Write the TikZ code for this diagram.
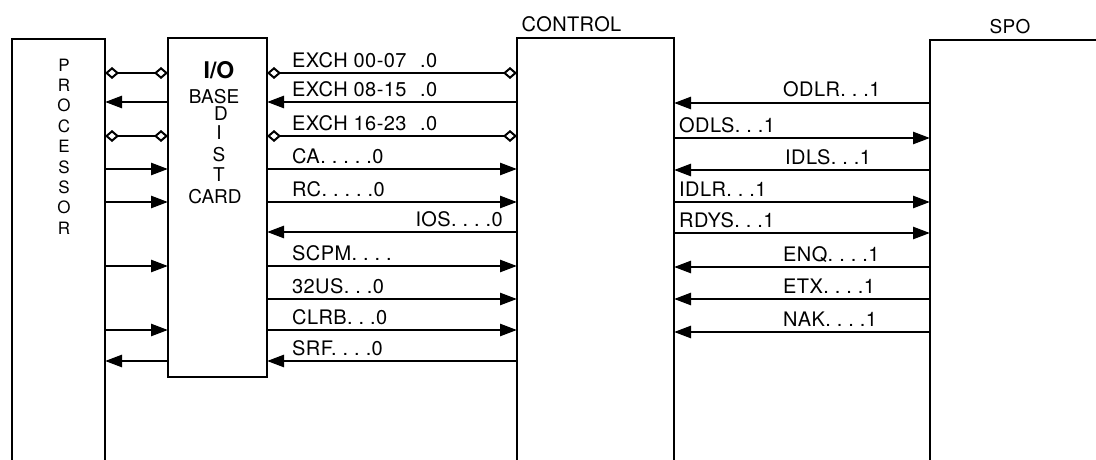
\documentclass[tikz,border=0pt]{standalone}
\usepackage{fontspec}
\setmainfont{TeX Gyre Heros}
\newfontfamily\lblfont[LetterSpace=2]{TeX Gyre Heros}
\usetikzlibrary{arrows.meta}
\begin{document}
\begin{tikzpicture}[x=1pt,y=-1pt,
  box/.style={line width=2.4pt},
  frame/.style={inner sep=0pt,outer sep=0pt},
  wire/.style={line width=2.6pt},
  to/.style={wire,-{Triangle[length=17pt,width=12pt]}},
  dia/.style={wire,{Diamond[open,length=14pt,width=12pt,line width=2pt]}-{Diamond[open,length=14pt,width=12pt,line width=2pt]}},
  lbl/.style={font=\lblfont\fontsize{20}{20}\selectfont\frenchspacing,inner sep=0pt,anchor=base west},
  lblr/.style={lbl,anchor=base east},
  title/.style={font=\lblfont\fontsize{20}{20}\selectfont,inner sep=0pt},
  cardtxt/.style={font=\fontsize{19}{19}\selectfont,inner sep=0pt},
  ptxt/.style={font=\fontsize{17}{17}\selectfont,inner sep=0pt}]
\useasboundingbox (0,0) rectangle (1096,460);

% rows
\foreach \n/\y in {1/73,2/102,3/136,4/169,5/202,6/232,7/266,8/299,9/330,10/361}
  \coordinate (r\n) at (0,\y);
\foreach \n/\y in {1/103,2/138,3/170,4/202,5/233,6/267,7/299,8/332}
  \coordinate (s\n) at (0,\y);

% boxes
\node[frame,minimum width=93pt,minimum height=421pt] (proc) at (58.5,249.5) {};
\draw[box] (proc.south west) -- (proc.north west) -- (proc.north east) -- (proc.south east);
\node[frame,draw,box,minimum width=99pt,minimum height=339pt] (card) at (217.5,207.5) {};
\node[frame,minimum width=157pt,minimum height=422pt] (ctrl) at (595.5,249) {};
\draw[box] (ctrl.south west) -- (ctrl.north west) -- (ctrl.north east) -- (ctrl.south east);
\node[frame,minimum width=170pt,minimum height=420pt] (spo) at (1015,250) {};
\draw[box] (spo.south west) -- (spo.north west) -- (spo.north east);

% titles
\node[title] (tctrl) at (571.5,24.5) {CONTROL};
\node[title,font=\lblfont\fontsize{19}{19}\selectfont] (tspo) at (1010,27) {SPO};

% processor text
\foreach \c [count=\i] in {P,R,O,C,E,S,S,O,R}
  \node[ptxt] (p\i) at (64,{65+(\i-1)*20.4}) {\c};

% card text
\node[cardtxt,font=\fontsize{23}{23}\selectfont\bfseries] (cio) at (219,70) {I/O};
\node[cardtxt] (cbase) at (214,97) {BASE};
\node[cardtxt] (cd) at (221,114) {D};
\node[cardtxt] (ci) at (219,133) {I};
\node[cardtxt] (cs) at (219,155) {S};
\node[cardtxt] (ct) at (219,175) {T};
\node[cardtxt] (ccard) at (215,197) {CARD};

% processor <-> card
\draw[dia] (proc.east |- r1) -- (card.west |- r1);
\draw[to] (card.west |- r2) -- (proc.east |- r2);
\draw[dia] (proc.east |- r3) -- (card.west |- r3);
\draw[to] (proc.east |- r4) -- (card.west |- r4);
\draw[to] (proc.east |- r5) -- (card.west |- r5);
\draw[to] (proc.east |- r7) -- (card.west |- r7);
\draw[to] (proc.east |- r9) -- (card.west |- r9);
\draw[to] (card.west |- r10) -- (proc.east |- r10);

% card <-> control
\draw[dia] (card.east |- r1) -- (ctrl.west |- r1);
\draw[to] (ctrl.west |- r2) -- (card.east |- r2);
\draw[dia] (card.east |- r3) -- (ctrl.west |- r3);
\draw[to] (card.east |- r4) -- (ctrl.west |- r4);
\draw[to] (card.east |- r5) -- (ctrl.west |- r5);
\draw[to] (ctrl.west |- r6) -- (card.east |- r6);
\draw[to] (card.east |- r7) -- (ctrl.west |- r7);
\draw[to] (card.east |- r8) -- (ctrl.west |- r8);
\draw[to] (card.east |- r9) -- (ctrl.west |- r9);
\draw[to] (ctrl.west |- r10) -- (card.east |- r10);

\node[lbl] (l1) at (292,67) {\makebox[128pt][l]{EXCH 00-07}.0};
\node[lbl] (l2) at (292,97) {\makebox[128pt][l]{EXCH 08-15}.0};
\node[lbl] (l3) at (292,130) {\makebox[128pt][l]{EXCH 16-23}.0};
\node[lbl] (l4) at (292,163) {CA. . . . .0};
\node[lbl] (l5) at (292,196) {RC. . . . .0};
\node[lblr] (l6) at (503,226) {IOS. . . .0};
\node[lbl] (l7) at (292,260) {SCPM. . . .};
\node[lbl] (l8) at (292,293) {32US. . .0};
\node[lbl] (l9) at (292,324) {CLRB. . .0};
\node[lbl] (l10) at (292,355) {SRF. . . .0};

% control <-> SPO
\draw[to] (spo.west |- s1) -- (ctrl.east |- s1);
\draw[to] (ctrl.east |- s2) -- (spo.west |- s2);
\draw[to] (spo.west |- s3) -- (ctrl.east |- s3);
\draw[to] (ctrl.east |- s4) -- (spo.west |- s4);
\draw[to] (ctrl.east |- s5) -- (spo.west |- s5);
\draw[to] (spo.west |- s6) -- (ctrl.east |- s6);
\draw[to] (spo.west |- s7) -- (ctrl.east |- s7);
\draw[to] (spo.west |- s8) -- (ctrl.east |- s8);

\node[lbl] (m1) at (783,97) {ODLR. . .1};
\node[lbl] (m2) at (679,132) {ODLS. . .1};
\node[lbl] (m3) at (785,164) {IDLS. . .1};
\node[lbl] (m4) at (679,196) {IDLR. . .1};
\node[lbl] (m5) at (679,227) {RDYS. . .1};
\node[lbl] (m6) at (783,261) {ENQ. . . .1};
\node[lbl] (m7) at (783,293) {ETX. . . .1};
\node[lbl] (m8) at (783,326) {NAK. . . .1};
\end{tikzpicture}
\end{document}
